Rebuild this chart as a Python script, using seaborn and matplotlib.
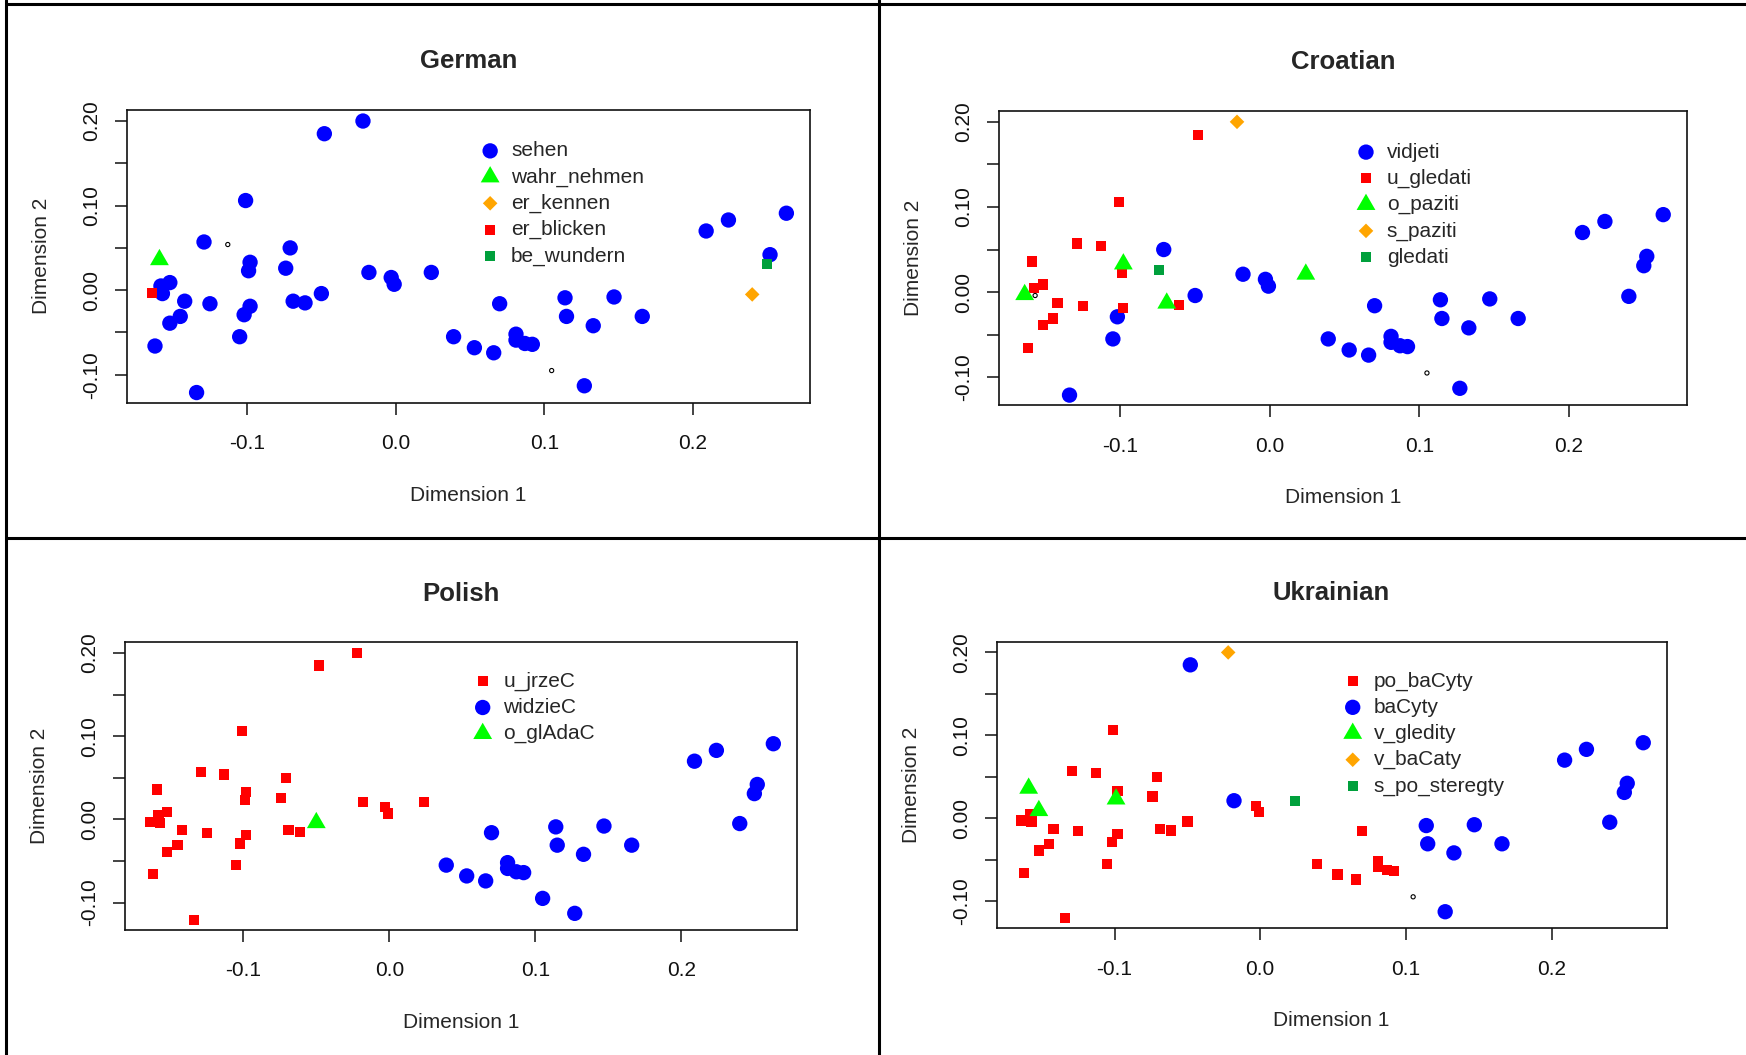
import numpy as np
import pandas as pd
import matplotlib
matplotlib.use('Agg')
import matplotlib.pyplot as plt
from matplotlib.lines import Line2D
import seaborn as sns

# MDS configuration (same points in every panel, only the verb labels differ)
dim1 = [-0.022, -0.048, -0.101, -0.129, -0.113, -0.159, -0.071, -0.098, -0.099, -0.074,
        -0.018, -0.003, -0.001, 0.024, -0.152, -0.158, -0.157, -0.164, -0.142, -0.125,
        -0.145, -0.152, -0.162, -0.134, -0.098, -0.102, -0.105, -0.069, -0.061, -0.050,
        0.070, 0.114, 0.147, 0.115, 0.166, 0.133, 0.039, 0.053, 0.066, 0.081,
        0.081, 0.087, 0.092, 0.105, 0.127, 0.209, 0.224, 0.263, 0.252, 0.250,
        0.240]
dim2 = [0.200, 0.185, 0.106, 0.057, 0.054, 0.036, 0.050, 0.033, 0.023, 0.026,
        0.021, 0.015, 0.007, 0.021, 0.009, 0.005, -0.004, -0.003, -0.013, -0.016,
        -0.031, -0.039, -0.066, -0.121, -0.019, -0.029, -0.055, -0.013, -0.015, -0.004,
        -0.016, -0.009, -0.008, -0.031, -0.031, -0.042, -0.055, -0.068, -0.074, -0.052,
        -0.059, -0.063, -0.064, -0.095, -0.113, 0.070, 0.083, 0.091, 0.042, 0.031,
        -0.005]

german = ['sehen', 'sehen', 'sehen', 'sehen', 'other', 'wahr_nehmen', 'sehen', 'sehen', 'sehen', 'sehen',
          'sehen', 'sehen', 'sehen', 'sehen', 'sehen', 'sehen', 'sehen', 'er_blicken', 'sehen', 'sehen',
          'sehen', 'sehen', 'sehen', 'sehen', 'sehen', 'sehen', 'sehen', 'sehen', 'sehen', 'sehen',
          'sehen', 'sehen', 'sehen', 'sehen', 'sehen', 'sehen', 'sehen', 'sehen', 'sehen', 'sehen',
          'sehen', 'sehen', 'sehen', 'other', 'sehen', 'sehen', 'sehen', 'sehen', 'sehen', 'be_wundern',
          'er_kennen']
croatian = ['s_paziti', 'u_gledati', 'u_gledati', 'u_gledati', 'u_gledati', 'u_gledati', 'vidjeti', 'o_paziti', 'u_gledati', 'gledati',
            'vidjeti', 'vidjeti', 'vidjeti', 'o_paziti', 'u_gledati', 'u_gledati', 'other', 'o_paziti', 'u_gledati', 'u_gledati',
            'u_gledati', 'u_gledati', 'u_gledati', 'vidjeti', 'u_gledati', 'vidjeti', 'vidjeti', 'o_paziti', 'u_gledati', 'vidjeti',
            'vidjeti', 'vidjeti', 'vidjeti', 'vidjeti', 'vidjeti', 'vidjeti', 'vidjeti', 'vidjeti', 'vidjeti', 'vidjeti',
            'vidjeti', 'vidjeti', 'vidjeti', 'other', 'vidjeti', 'vidjeti', 'vidjeti', 'vidjeti', 'vidjeti', 'vidjeti',
            'vidjeti']
polish = ['u_jrzeC', 'u_jrzeC', 'u_jrzeC', 'u_jrzeC', 'u_jrzeC', 'u_jrzeC', 'u_jrzeC', 'u_jrzeC', 'u_jrzeC', 'u_jrzeC',
          'u_jrzeC', 'u_jrzeC', 'u_jrzeC', 'u_jrzeC', 'u_jrzeC', 'u_jrzeC', 'u_jrzeC', 'u_jrzeC', 'u_jrzeC', 'u_jrzeC',
          'u_jrzeC', 'u_jrzeC', 'u_jrzeC', 'u_jrzeC', 'u_jrzeC', 'u_jrzeC', 'u_jrzeC', 'u_jrzeC', 'u_jrzeC', 'o_glAdaC',
          'widzieC', 'widzieC', 'widzieC', 'widzieC', 'widzieC', 'widzieC', 'widzieC', 'widzieC', 'widzieC', 'widzieC',
          'widzieC', 'widzieC', 'widzieC', 'widzieC', 'widzieC', 'widzieC', 'widzieC', 'widzieC', 'widzieC', 'widzieC',
          'widzieC']
ukrainian = ['v_baCaty', 'baCyty', 'po_baCyty', 'po_baCyty', 'po_baCyty', 'v_gledity', 'po_baCyty', 'po_baCyty', 'v_gledity', 'po_baCyty',
             'baCyty', 'po_baCyty', 'po_baCyty', 's_po_steregty', 'v_gledity', 'po_baCyty', 'po_baCyty', 'po_baCyty', 'po_baCyty', 'po_baCyty',
             'po_baCyty', 'po_baCyty', 'po_baCyty', 'po_baCyty', 'po_baCyty', 'po_baCyty', 'po_baCyty', 'po_baCyty', 'po_baCyty', 'po_baCyty',
             'po_baCyty', 'baCyty', 'baCyty', 'baCyty', 'baCyty', 'baCyty', 'po_baCyty', 'po_baCyty', 'po_baCyty', 'po_baCyty',
             'po_baCyty', 'po_baCyty', 'po_baCyty', 'other', 'baCyty', 'baCyty', 'baCyty', 'baCyty', 'baCyty', 'baCyty',
             'baCyty']

# legend order and symbol type of each verb
german_legend = [('sehen', 'circle'), ('wahr_nehmen', 'triangle'), ('er_kennen', 'diamond'),
                 ('er_blicken', 'square'), ('be_wundern', 'dsquare')]
croatian_legend = [('vidjeti', 'circle'), ('u_gledati', 'square'), ('o_paziti', 'triangle'),
                   ('s_paziti', 'diamond'), ('gledati', 'dsquare')]
polish_legend = [('u_jrzeC', 'square'), ('widzieC', 'circle'), ('o_glAdaC', 'triangle')]
ukrainian_legend = [('po_baCyty', 'square'), ('baCyty', 'circle'), ('v_gledity', 'triangle'),
                    ('v_baCaty', 'diamond'), ('s_po_steregty', 'dsquare')]

tri = [(0, 1), (-0.866, -0.5), (0.866, -0.5)]
dia = [(0, 1), (1, 0), (0, -1), (-1, 0)]
symbols = {
    'circle': dict(marker='o', s=122, color='#0000FF'),
    'square': dict(marker='s', s=54, color='#FF0000'),
    'triangle': dict(marker=tri, s=245, color='#00FF00'),
    'diamond': dict(marker=dia, s=110, color='#FFA500'),
    'dsquare': dict(marker='s', s=54, color='#00A03C'),
}
draw_rank = {'circle': 0, 'square': 1, 'triangle': 2, 'diamond': 3, 'dsquare': 4}

sns.set_style('white')
plt.rcParams['font.family'] = ['Liberation Sans', 'DejaVu Sans']

fig = plt.figure(figsize=(17.46, 10.55), dpi=100)

panels = [
    ('German', german, german_legend, [0.0726, 0.6183, 0.3914, 0.2774], (0.5165, 0.893)),
    ('Croatian', croatian, croatian_legend, [0.5723, 0.6158, 0.3940, 0.2792], (0.518, 0.892)),
    ('Polish', polish, polish_legend, [0.0716, 0.1185, 0.3847, 0.2727], (0.517, 0.898)),
    ('Ukrainian', ukrainian, ukrainian_legend, [0.5708, 0.1201, 0.3837, 0.2717], (0.516, 0.896)),
]

for title, verbs, legend_items, rect, leg_pos in panels:
    ax = fig.add_axes(rect)
    df = pd.DataFrame({'d1': dim1, 'd2': dim2, 'verb': verbs})

    handles = {}
    for verb, kind in sorted(legend_items, key=lambda it: draw_rank[it[1]]):
        sub = df[df['verb'] == verb]
        st = symbols[kind]
        sns.scatterplot(data=sub, x='d1', y='d2', ax=ax, marker=st['marker'], s=st['s'],
                        color=st['color'], edgecolor='none', linewidth=0, legend=False)
        handles[verb] = ax.collections[-1]
    # unlabelled points: tiny open circles
    other = df[df['verb'] == 'other']
    if len(other):
        ax.scatter(other['d1'], other['d2'], marker='o', s=9, facecolor='none',
                   edgecolor='black', linewidth=0.8)

    ax.set_xlim(-0.181, 0.279)
    ax.set_ylim(-0.133, 0.213)
    ax.set_xticks([-0.1, 0.0, 0.1, 0.2])
    ax.set_xticklabels(['-0.1', '0.0', '0.1', '0.2'])
    ax.set_yticks([-0.10, -0.05, 0.00, 0.05, 0.10, 0.15, 0.20])
    ax.set_yticklabels(['-0.10', '', '0.00', '', '0.10', '', '0.20'], rotation=90, va='center')
    ax.tick_params(axis='both', direction='out', length=8.6, width=1.1,
                   labelsize=15, colors='#111111', bottom=True, left=True)
    ax.tick_params(axis='x', pad=14)
    ax.tick_params(axis='y', pad=10)
    for sp in ax.spines.values():
        sp.set_linewidth(1.2)
        sp.set_color('#111111')

    ax.set_xlabel('Dimension 1', fontsize=15, labelpad=23.5)
    ax.set_ylabel('Dimension 2', fontsize=15, labelpad=22.5)
    ax.set_title(title, fontsize=18.5, fontweight='bold', pad=30)

    ax.legend([handles[v] for v, _ in legend_items], [v for v, _ in legend_items],
              loc='upper left', bbox_to_anchor=leg_pos, frameon=False, borderpad=0,
              borderaxespad=0, handlelength=1.0, handletextpad=0.5, labelspacing=0.34,
              fontsize=15, scatterpoints=1)

# panel frame lines
for xs, ys in [([0.0034, 0.0034], [0, 1]), ([0.5034, 0.5034], [0, 1]),
               ([0.0034, 1], [0.9962, 0.9962]), ([0.0034, 1], [0.49, 0.49])]:
    fig.add_artist(Line2D(xs, ys, transform=fig.transFigure, color='black', lw=2.2))

fig.savefig('out.png', dpi=100)
